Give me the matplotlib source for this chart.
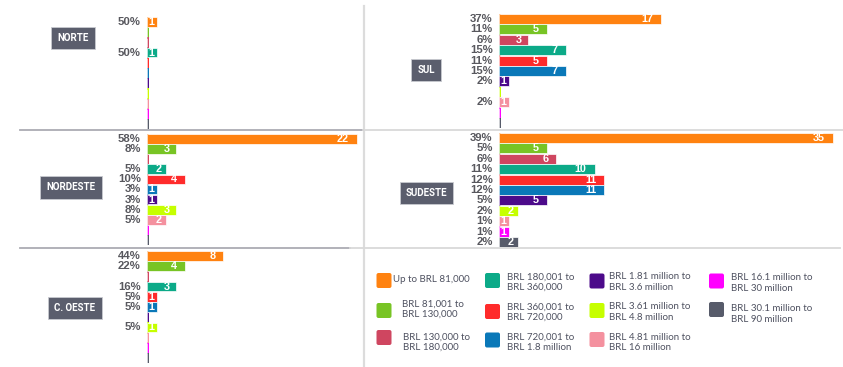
import matplotlib
matplotlib.use("Agg")
import matplotlib.pyplot as plt
from matplotlib.patches import FancyBboxPatch

plt.rcParams["font.family"] = ["Lato", "DejaVu Sans"]
BOLD = ["Liberation Sans", "DejaVu Sans"]

# revenue brackets (legend order)
brackets = [
    "Up to BRL 81,000",
    "BRL 81,001 to\nBRL 130,000",
    "BRL 130,000 to\nBRL 180,000",
    "BRL 180,001 to\nBRL 360,000",
    "BRL 360,001 to\nBRL 720,000",
    "BRL 720,001 to\nBRL 1.8 million",
    "BRL 1.81 million to\nBRL 3.6 million",
    "BRL 3.61 million to\nBRL 4.8 million",
    "BRL 4.81 million to\nBRL 16 million",
    "BRL 16.1 million to\nBRL 30 million",
    "BRL 30.1 million to\nBRL 90 million",
]
colors = ["#FF8210", "#78C425", "#CF4660", "#0CAA88", "#FF2B2B", "#0A78B8",
          "#4C0A8A", "#C6FF00", "#F4919F", "#FF00FF", "#575B6A"]

norte = [1, 0, 0, 1, 0, 0, 0, 0, 0, 0, 0]
norte_pct = ["50%", "", "", "50%", "", "", "", "", "", "", ""]
sul = [17, 5, 3, 7, 5, 7, 1, 0, 1, 0, 0]
sul_pct = ["37%", "11%", "6%", "15%", "11%", "15%", "2%", "", "2%", "", ""]
nordeste = [22, 3, 0, 2, 4, 1, 1, 3, 2, 0, 0]
nordeste_pct = ["58%", "8%", "", "5%", "10%", "3%", "3%", "8%", "5%", "", ""]
sudeste = [35, 5, 6, 10, 11, 11, 5, 2, 1, 1, 2]
sudeste_pct = ["39%", "5%", "6%", "11%", "12%", "12%", "5%", "2%", "1%", "1%", "2%"]
c_oeste = [8, 4, 0, 3, 1, 1, 0, 1, 0, 0, 0]
c_oeste_pct = ["44%", "22%", "", "16%", "5%", "5%", "", "5%", "", "", ""]

W, H = 843, 367
PX_PER_UNIT = 9.55
BOX = "#5B5E6D"
GRAY_TXT = "#58585E"

fig = plt.figure(figsize=(W / 100, H / 100), dpi=100)
bg = fig.add_axes([0, 0, 1, 1])
bg.set_xlim(0, W)
bg.set_ylim(H, 0)
bg.axis("off")

# separators
bg.plot([363.5, 363.5], [6, H], color="#DCDCDC", lw=1.6)
bg.plot([20, 363], [130, 130], color="#ABABB3", lw=1.3)
bg.plot([363, 843], [130, 130], color="#D9D9D9", lw=1.3)
bg.plot([20, 350], [248, 248], color="#ABABB3", lw=1.3)
bg.plot([350, 840], [248, 248], color="#D9D9D9", lw=1.3)


def panel(name, values, pcts, x0, y_first, y_last, x_right, box_xy):
    n = len(values)
    step = (y_last - y_first) / (n - 1)
    top = y_first - step / 2
    height = step * n
    width = x_right - x0
    ax = fig.add_axes([x0 / W, 1 - (top + height) / H, width / W, height / H])
    ax.set_xlim(0, width / PX_PER_UNIT)
    ax.set_ylim(n - 0.5, -0.5)
    ax.axis("off")
    rows = range(n)
    ax.barh(rows, [0.22] * n, height=1.0, color=colors, left=0)
    ax.barh(rows, values, height=0.96, color=colors, edgecolor="white", lw=0.5)
    for i, (v, p) in enumerate(zip(values, pcts)):
        if p:
            ax.annotate(p, (0, i), xytext=(-4.5, 0), textcoords="offset points",
                        ha="right", va="center", fontsize=8.2, family=BOLD,
                        fontweight="bold", color=GRAY_TXT)
        if v > 0:
            w_px = v * PX_PER_UNIT
            pad = min(8.0, 0.22 * w_px) * 0.72
            ax.annotate(str(v), (v, i), xytext=(-pad, 0),
                        textcoords="offset points", ha="right", va="center",
                        fontsize=7.8, family=BOLD, fontweight="bold",
                        color="white")
    bg.text(box_xy[0], box_xy[1], name, ha="center", va="center",
            fontsize=7, fontweight="bold", family=["Roboto", "DejaVu Sans"],
            color="white",
            bbox=dict(boxstyle="square,pad=0.62", fc=BOX, ec="#C8CAD0", lw=0.6))


panel("NORTE", norte, norte_pct, 147, 22, 124, 360, (73, 38))
panel("SUL", sul, sul_pct, 499, 19, 123, 843, (426, 70))
panel("NORDESTE", nordeste, nordeste_pct, 147, 139, 240, 360, (71, 187.5))
panel("SUDESTE", sudeste, sudeste_pct, 499, 138, 242, 843, (426.5, 193))
panel("C. OESTE", c_oeste, c_oeste_pct, 147, 256, 358, 360, (75, 308))

# legend, column-major
sq_x = [384, 492.5, 597, 716.5]
sq_y = [[280.5, 310.5, 337.5], [280.5, 311.5, 340], [281, 310.5, 339.5], [281, 309.5]]
txt_x = [[393, 402, 403], [507, 507, 507], [609, 609, 609], [731, 731]]
txt_y = [[280, 309, 342], [282, 312, 342.5], [282, 312, 342.5], [283, 314]]
k = 0
for c in range(4):
    for r in range(len(sq_y[c])):
        s = 15
        bg.add_patch(FancyBboxPatch((sq_x[c] - s / 2, sq_y[c][r] - s / 2), s, s,
                                    boxstyle="round,pad=0,rounding_size=2",
                                    fc=colors[k], ec="none"))
        bg.text(txt_x[c][r], txt_y[c][r], brackets[k], ha="left", va="center",
                fontsize=7, color="#4E5160", linespacing=1.15)
        k += 1

fig.savefig("out.png", dpi=100)
